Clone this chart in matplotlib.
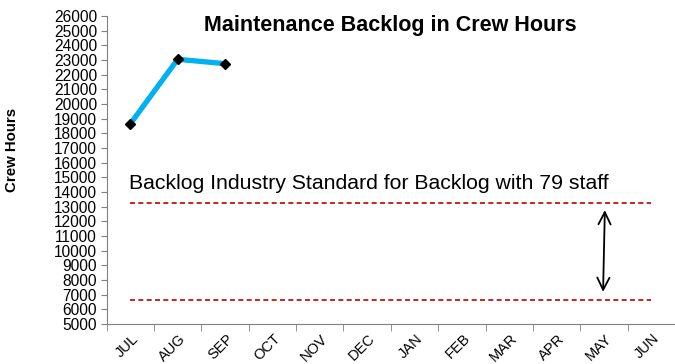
import numpy as np
import matplotlib.pyplot as plt
import matplotlib.transforms as mtrans

plt.rcParams['font.family'] = ['Liberation Sans', 'DejaVu Sans']

months = ['JUL', 'AUG', 'SEP', 'OCT', 'NOV', 'DEC',
          'JAN', 'FEB', 'MAR', 'APR', 'MAY', 'JUN']
backlog = [18650, 23050, 22750]   # only first three months reported
std_high = 13250
std_low = 6650

fig = plt.figure(figsize=(6.75, 3.64), dpi=100)
ax = fig.add_axes([0.158, 0.11, 0.842, 0.846])

x = np.arange(len(months))
ax.plot(x[:len(backlog)], backlog, color='#00B0F0', lw=3.8, zorder=3)
ax.plot(x[:len(backlog)], backlog, ls='none', marker='D', ms=5,
        color='black', zorder=4)

ax.hlines([std_high, std_low], 0, len(months) - 1, colors='#C00000',
          linestyles=(0, (3, 2)), lw=1.2)
ax.text(-0.03, std_high + 650, 'Backlog Industry Standard for Backlog with 79 staff',
        fontsize=15.3, ha='left', va='bottom')
ax.annotate('', xy=(10.02, std_high - 300), xytext=(9.98, std_low + 350),
            arrowprops=dict(arrowstyle='<->', lw=1.3, color='black',
                            mutation_scale=22))

ax.set_xlim(-0.5, 11.3)
ax.set_ylim(5000, 26000)
ax.set_yticks(np.arange(5000, 26001, 1000))
ax.tick_params(axis='y', labelsize=11.2, length=4, direction='out', pad=3)
ax.set_xticks(x)
ax.set_xticklabels(months, rotation=45, fontsize=10.5, ha='right',
                   va='center', rotation_mode='anchor')
ax.tick_params(axis='x', length=0, pad=9)
shift = mtrans.ScaledTranslation(0.06, 0, fig.dpi_scale_trans)
for lbl in ax.get_xticklabels():
    lbl.set_transform(lbl.get_transform() + shift)
ax.set_xticks(np.arange(-0.5, 12, 1), minor=True)
ax.tick_params(axis='x', which='minor', length=5, direction='out')

for s in ['top', 'right']:
    ax.spines[s].set_visible(False)
ax.spines['left'].set_color('#808080')
ax.spines['bottom'].set_color('#808080')
ax.tick_params(which='both', color='#808080')

fig.text(12 / 675, 1 - 150 / 364, 'Crew Hours', fontsize=10.8,
         fontweight='bold', rotation=90, ha='center', va='center')
fig.text(0.578, 1 - 25 / 364, 'Maintenance Backlog in Crew Hours', fontsize=15.5,
         fontweight='bold', ha='center', va='center')

fig.savefig('out.png', dpi=100)
